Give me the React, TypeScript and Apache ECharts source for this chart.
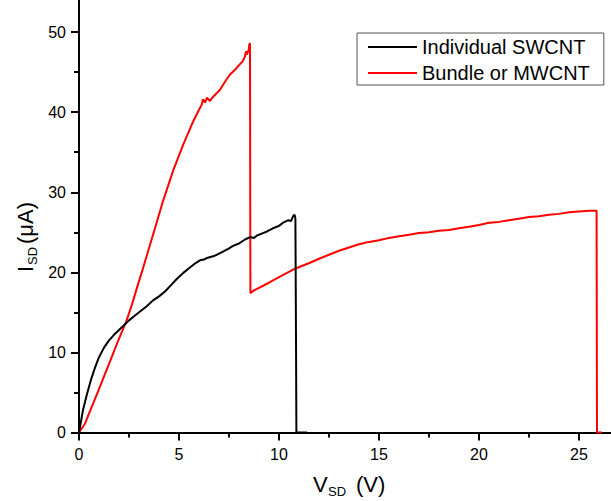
import React, { useEffect, useRef } from "react";
import * as echarts from "echarts";

const swcntX = [0, 0.2, 0.4, 0.6, 0.8, 1.0, 1.25, 1.5, 1.75, 2.0, 2.25, 2.5, 2.8, 3.1, 3.4, 3.7, 4.0, 4.3, 4.6, 4.9, 5.2, 5.5, 5.8, 6.05, 6.25, 6.4, 6.7, 6.9, 7.2, 7.5, 7.7, 8.0, 8.3, 8.55, 8.75, 8.9, 9.2, 9.4, 9.7, 10.0, 10.2, 10.45, 10.6, 10.7, 10.78, 10.82, 10.85, 10.87, 11.4];
const swcntY = [0, 2.8, 4.8, 6.6, 8.1, 9.4, 10.6, 11.5, 12.2, 12.8, 13.4, 14.0, 14.6, 15.2, 15.8, 16.5, 17.0, 17.6, 18.4, 19.2, 19.9, 20.5, 21.1, 21.5, 21.6, 21.8, 22.0, 22.2, 22.6, 23.0, 23.3, 23.6, 24.1, 24.4, 24.3, 24.6, 24.9, 25.1, 25.5, 25.8, 26.2, 26.5, 26.4, 27.0, 27.2, 26.7, 12, 0, 0];

const mwcntX = [0, 0.3, 0.62, 0.95, 1.28, 1.6, 1.95, 2.37, 2.65, 2.95, 3.2, 3.45, 3.8, 4.2, 4.72, 5.22, 5.72, 6.0, 6.13, 6.2, 6.3, 6.4, 6.55, 6.7, 7.05, 7.3, 7.55, 7.8, 8.05, 8.2, 8.3, 8.35, 8.4, 8.48, 8.52, 8.55, 8.57, 8.72, 9.5, 10.0, 10.8, 11.55, 12.0, 12.5, 13.0, 13.5, 14.0, 14.5, 15.0, 15.5, 16.0, 16.5, 17.0, 17.5, 18.0, 18.5, 19.0, 19.5, 20.0, 20.5, 21.0, 21.5, 22.0, 22.5, 23.0, 23.5, 24.0, 24.5, 25.0, 25.5, 25.88, 25.9, 26.15];
const mwcntY = [0, 1.1, 3.1, 5.1, 7.2, 9.2, 11.4, 13.9, 16.0, 18.5, 20.5, 22.6, 25.5, 28.9, 32.8, 36.0, 38.9, 40.3, 40.9, 41.6, 41.2, 41.8, 41.4, 41.9, 42.8, 43.8, 44.7, 45.3, 46.0, 46.4, 47.0, 47.6, 47.2, 47.8, 48.5, 48.6, 17.4, 17.7, 18.7, 19.4, 20.45, 21.2, 21.7, 22.2, 22.7, 23.1, 23.5, 23.8, 24.0, 24.3, 24.5, 24.7, 24.9, 25.0, 25.2, 25.3, 25.5, 25.7, 25.9, 26.2, 26.3, 26.5, 26.7, 26.9, 27.0, 27.2, 27.3, 27.5, 27.6, 27.7, 27.7, 0, 0];

const xTicks = [0, 5, 10, 15, 20, 25];
const yTicks = [0, 10, 20, 30, 40, 50];
const seriesNames = ["Individual SWCNT", "Bundle or MWCNT"];
const seriesColors = ["#000000", "#ff0000"];

const FONT = "Arial, 'Liberation Sans', sans-serif";
// The chart canvas is larger than the page and shifted up, so the axes run off the top and right edges.
const OFF_Y = 48;
const DIV_W = 700;
const DIV_H = 501 + OFF_Y;

export default function App() {
  const ref = useRef<HTMLDivElement>(null);
  useEffect(() => {
    if (!ref.current) return;
    const chart = echarts.init(ref.current, undefined, { renderer: "svg" });
    const pairs = (xs: number[], ys: number[]) => xs.map((x, i) => [x, ys[i]]);
    const axisCommon = {
      type: "value" as const,
      splitLine: { show: false },
      axisLine: { show: true, lineStyle: { color: "#000", width: 2 } },
      axisTick: { show: true, inside: false, length: 8, lineStyle: { color: "#000", width: 2 } },
      minorTick: { show: true, splitNumber: 2, length: 5, lineStyle: { color: "#000", width: 2 } },
      axisLabel: { color: "#000", fontSize: 16, fontFamily: FONT },
    };
    chart.setOption({
      animation: false,
      grid: { left: 79, right: DIV_W - 79 - 600, top: 0, bottom: DIV_H - 480 - 0.5, containLabel: false },
      xAxis: {
        ...axisCommon,
        min: 0,
        max: 30,
        interval: 5,
        axisLabel: { ...axisCommon.axisLabel, margin: 14, formatter: (v: number) => (xTicks.includes(v) ? String(v) : "") },
      },
      yAxis: {
        ...axisCommon,
        min: 0,
        max: 60,
        interval: 10,
        axisLabel: { ...axisCommon.axisLabel, margin: 13, formatter: (v: number) => (yTicks.includes(v) ? String(v) : "") },
      },
      legend: {
        orient: "vertical",
        left: 357,
        top: 33 + OFF_Y,
        padding: [4, 14, 2, 11],
        itemGap: 6,
        itemWidth: 49,
        itemHeight: 2,
        icon: "rect",
        borderColor: "#555",
        borderWidth: 1,
        textStyle: { color: "#000", fontSize: 20, fontFamily: FONT },
        data: seriesNames,
      },
      series: [
        {
          name: seriesNames[0],
          type: "line",
          data: pairs(swcntX, swcntY),
          symbol: "none",
          showSymbol: false,
          lineStyle: { color: seriesColors[0], width: 2 },
          itemStyle: { color: seriesColors[0] },
          z: 3,
        },
        {
          name: seriesNames[1],
          type: "line",
          data: pairs(mwcntX, mwcntY),
          symbol: "none",
          showSymbol: false,
          lineStyle: { color: seriesColors[1], width: 2 },
          itemStyle: { color: seriesColors[1] },
          z: 2,
        },
      ],
      graphic: [
        {
          type: "group",
          x: 0,
          y: OFF_Y,
          rotation: Math.PI / 2,
          children: [
            { type: "text", x: -272, y: 36, style: { text: "I", fontSize: 22, fontFamily: FONT, fill: "#000", textAlign: "left", textVerticalAlign: "bottom" } },
            { type: "text", x: -265, y: 39, style: { text: "SD", fontSize: 13, fontFamily: FONT, fill: "#000", textAlign: "left", textVerticalAlign: "bottom" } },
            { type: "text", x: -244, y: 36, style: { text: "(μA)", fontSize: 22, fontFamily: FONT, fill: "#000", textAlign: "left", textVerticalAlign: "bottom" } },
          ],
        },
        { type: "text", x: 313, y: 495 + OFF_Y, style: { text: "V", fontSize: 22, fontFamily: FONT, fill: "#000", textAlign: "left", textVerticalAlign: "bottom" } },
        { type: "text", x: 328, y: 498 + OFF_Y, style: { text: "SD", fontSize: 13, fontFamily: FONT, fill: "#000", textAlign: "left", textVerticalAlign: "bottom" } },
        { type: "text", x: 356, y: 495 + OFF_Y, style: { text: "(V)", fontSize: 22, fontFamily: FONT, fill: "#000", textAlign: "left", textVerticalAlign: "bottom" } },
      ],
    });
    return () => chart.dispose();
  }, []);
  return <div ref={ref} style={{ position: "fixed", left: 0, top: -OFF_Y, width: DIV_W, height: DIV_H, background: "#fff" }} />;
}
